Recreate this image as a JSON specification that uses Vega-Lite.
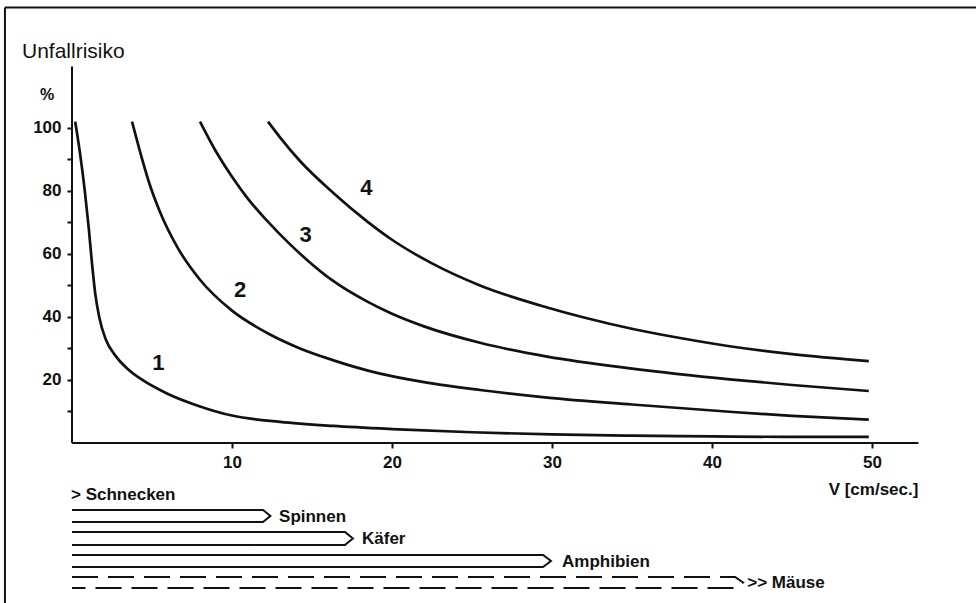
{
  "$schema": "https://vega.github.io/schema/vega-lite/v6.json",
  "width": 976,
  "height": 603,
  "autosize": "none",
  "padding": 0,
  "background": "white",
  "config": {
    "view": {"stroke": null},
    "font": "Liberation Sans, Arial, sans-serif",
    "text": {"font": "Liberation Sans, Arial, sans-serif", "color": "#111"}
  },
  "datasets": {
    "curves": [
      {"curve": "1", "x": 0.2, "y": 102}, {"curve": "1", "x": 0.5, "y": 92}, {"curve": "1", "x": 0.8, "y": 80}, {"curve": "1", "x": 1.05, "y": 68}, {"curve": "1", "x": 1.25, "y": 57}, {"curve": "1", "x": 1.45, "y": 47.5}, {"curve": "1", "x": 1.7, "y": 40}, {"curve": "1", "x": 2.1, "y": 33}, {"curve": "1", "x": 2.7, "y": 27.8}, {"curve": "1", "x": 3.5, "y": 23.4}, {"curve": "1", "x": 4.4, "y": 20}, {"curve": "1", "x": 5.9, "y": 15.8}, {"curve": "1", "x": 8, "y": 11.6}, {"curve": "1", "x": 10, "y": 8.7}, {"curve": "1", "x": 13, "y": 6.7}, {"curve": "1", "x": 16.3, "y": 5.4}, {"curve": "1", "x": 20, "y": 4.4}, {"curve": "1", "x": 25, "y": 3.4}, {"curve": "1", "x": 30, "y": 2.7}, {"curve": "1", "x": 35, "y": 2.3}, {"curve": "1", "x": 40, "y": 2.1}, {"curve": "1", "x": 45, "y": 1.9}, {"curve": "1", "x": 49.8, "y": 1.9},
      {"curve": "2", "x": 3.75, "y": 102}, {"curve": "2", "x": 4.2, "y": 93.4}, {"curve": "2", "x": 4.8, "y": 82.9}, {"curve": "2", "x": 5.5, "y": 73.3}, {"curve": "2", "x": 6.6, "y": 62}, {"curve": "2", "x": 8, "y": 51.8}, {"curve": "2", "x": 10, "y": 42}, {"curve": "2", "x": 12.2, "y": 34.9}, {"curve": "2", "x": 14.25, "y": 30}, {"curve": "2", "x": 16.3, "y": 26.3}, {"curve": "2", "x": 19.25, "y": 22}, {"curve": "2", "x": 22, "y": 19.3}, {"curve": "2", "x": 25.5, "y": 16.8}, {"curve": "2", "x": 29.7, "y": 14.4}, {"curve": "2", "x": 35, "y": 12.2}, {"curve": "2", "x": 41.1, "y": 9.9}, {"curve": "2", "x": 45, "y": 8.6}, {"curve": "2", "x": 49.8, "y": 7.4},
      {"curve": "3", "x": 8, "y": 102}, {"curve": "3", "x": 9, "y": 92.5}, {"curve": "3", "x": 10, "y": 84.5}, {"curve": "3", "x": 11, "y": 77.5}, {"curve": "3", "x": 12.2, "y": 70.5}, {"curve": "3", "x": 13.6, "y": 63.2}, {"curve": "3", "x": 14.6, "y": 58.5}, {"curve": "3", "x": 16.3, "y": 51.5}, {"curve": "3", "x": 18.4, "y": 45}, {"curve": "3", "x": 20, "y": 41}, {"curve": "3", "x": 22, "y": 37}, {"curve": "3", "x": 25.5, "y": 31.8}, {"curve": "3", "x": 29.7, "y": 27.4}, {"curve": "3", "x": 35, "y": 23.6}, {"curve": "3", "x": 41.1, "y": 20.2}, {"curve": "3", "x": 45, "y": 18.4}, {"curve": "3", "x": 49.8, "y": 16.5},
      {"curve": "4", "x": 12.25, "y": 102}, {"curve": "4", "x": 13, "y": 97}, {"curve": "4", "x": 14.25, "y": 89.5}, {"curve": "4", "x": 16.3, "y": 79.5}, {"curve": "4", "x": 18.4, "y": 70.5}, {"curve": "4", "x": 20, "y": 64.5}, {"curve": "4", "x": 22.5, "y": 57}, {"curve": "4", "x": 25.5, "y": 50}, {"curve": "4", "x": 29.7, "y": 43}, {"curve": "4", "x": 32, "y": 39.8}, {"curve": "4", "x": 35.2, "y": 36}, {"curve": "4", "x": 38, "y": 33.3}, {"curve": "4", "x": 41.1, "y": 30.7}, {"curve": "4", "x": 45, "y": 28.2}, {"curve": "4", "x": 49.8, "y": 26}
    ],
    "curveLabels": [
      {"label": "1", "x": 5.4, "y": 25.4},
      {"label": "2", "x": 10.5, "y": 48.6},
      {"label": "3", "x": 14.6, "y": 66},
      {"label": "4", "x": 18.4, "y": 81}
    ],
    "hlines": [
      {"what": "frame", "x": -4.19, "x2": 56.5, "y": 138.25},
      {"what": "xaxis", "x": 0, "x2": 52.9, "y": 0}
    ],
    "vlines": [
      {"what": "frame", "x": -4.19, "y": -50.8, "y2": 138.25},
      {"what": "yaxis", "x": 0, "y": 0, "y2": 119.5}
    ],
    "arrows": [
      {"animal": "Spinnen", "style": "solid", "i": 1, "x": 0, "y": -21.27},
      {"animal": "Spinnen", "style": "solid", "i": 2, "x": 11.94, "y": -21.27},
      {"animal": "Spinnen", "style": "solid", "i": 3, "x": 12.4, "y": -23.17},
      {"animal": "Spinnen", "style": "solid", "i": 4, "x": 11.94, "y": -25.08},
      {"animal": "Spinnen", "style": "solid", "i": 5, "x": 0, "y": -25.08},
      {"animal": "Käfer", "style": "solid", "i": 1, "x": 0, "y": -28.25},
      {"animal": "Käfer", "style": "solid", "i": 2, "x": 17.06, "y": -28.25},
      {"animal": "Käfer", "style": "solid", "i": 3, "x": 17.56, "y": -30.32},
      {"animal": "Käfer", "style": "solid", "i": 4, "x": 17.06, "y": -32.38},
      {"animal": "Käfer", "style": "solid", "i": 5, "x": 0, "y": -32.38},
      {"animal": "Amphibien", "style": "solid", "i": 1, "x": 0, "y": -35.56},
      {"animal": "Amphibien", "style": "solid", "i": 2, "x": 29.44, "y": -35.56},
      {"animal": "Amphibien", "style": "solid", "i": 3, "x": 29.94, "y": -37.46},
      {"animal": "Amphibien", "style": "solid", "i": 4, "x": 29.44, "y": -39.37},
      {"animal": "Amphibien", "style": "solid", "i": 5, "x": 0, "y": -39.37},
      {"animal": "Mäuse", "style": "dashed", "i": 1, "x": 0, "y": -42.54},
      {"animal": "Mäuse", "style": "dashed", "i": 2, "x": 41.44, "y": -42.54},
      {"animal": "Mäuse", "style": "dashed", "i": 3, "x": 41.94, "y": -44.29},
      {"animal": "Mäuse", "style": "dashed", "i": 4, "x": 41.44, "y": -46.03},
      {"animal": "Mäuse", "style": "dashed", "i": 5, "x": 0, "y": -46.03}
    ],
    "animalLabels": [
      {"label": "> Schnecken", "x": -0.06, "y": -16.5},
      {"label": "Spinnen", "x": 12.94, "y": -23.5},
      {"label": "Käfer", "x": 18.125, "y": -30.5},
      {"label": "Amphibien", "x": 30.625, "y": -37.8},
      {"label": ">> Mäuse", "x": 42.2, "y": -44.4}
    ],
    "titles": [
      {"label": "Unfallrisiko", "x": -3.125, "y": 124.1}
    ],
    "percent": [
      {"label": "%", "x": -1.56, "y": 110.5}
    ],
    "xtitle": [
      {"label": "V [cm/sec.]", "x": 52.9, "y": -14.9}
    ]
  },
  "encoding": {
    "x": {
      "field": "x", "type": "quantitative",
      "scale": {"domain": [-4.5, 56.5], "nice": false, "zero": false},
      "axis": {
        "orient": "bottom", "offset": -160, "values": [10, 20, 30, 40, 50],
        "domain": false, "grid": false, "title": null,
        "tickSize": 5, "tickWidth": 2, "tickColor": "#111",
        "labelFont": "Liberation Sans, Arial, sans-serif", "labelFontSize": 17, "labelFontWeight": "bold",
        "labelColor": "#111", "labelPadding": 6
      }
    },
    "y": {
      "field": "y", "type": "quantitative",
      "scale": {"domain": [-50.8, 140.6], "nice": false, "zero": false},
      "axis": {
        "orient": "left", "offset": -72, "values": [10, 20, 30, 40, 50, 60, 70, 80, 90, 100],
        "labelExpr": "datum.value % 20 == 0 ? datum.label : ''",
        "domain": false, "grid": false, "title": null,
        "tickSize": 5, "tickWidth": 2, "tickColor": "#111",
        "labelFont": "Liberation Sans, Arial, sans-serif", "labelFontSize": 17, "labelFontWeight": "bold",
        "labelColor": "#111", "labelPadding": 6
      }
    }
  },
  "layer": [
    {
      "data": {"name": "hlines"},
      "mark": {"type": "rule", "color": "#111", "strokeWidth": 2},
      "encoding": {"x2": {"field": "x2"}}
    },
    {
      "data": {"name": "vlines"},
      "mark": {"type": "rule", "color": "#111", "strokeWidth": 2},
      "encoding": {"y2": {"field": "y2"}}
    },
    {
      "data": {"name": "curves"},
      "mark": {"type": "line", "color": "#111", "strokeWidth": 2.7, "interpolate": "monotone"},
      "encoding": {"detail": {"field": "curve"}}
    },
    {
      "data": {"name": "curveLabels"},
      "mark": {"type": "text", "fontSize": 22, "fontWeight": "bold", "align": "center", "baseline": "middle"},
      "encoding": {"text": {"field": "label"}}
    },
    {
      "data": {"name": "arrows"},
      "mark": {"type": "line", "color": "#111", "strokeWidth": 2},
      "encoding": {
        "detail": {"field": "animal"},
        "order": {"field": "i", "type": "quantitative"},
        "strokeDash": {
          "field": "style", "type": "nominal",
          "scale": {"domain": ["solid", "dashed"], "range": [[1, 0], [26, 10]]},
          "legend": null
        }
      }
    },
    {
      "data": {"name": "animalLabels"},
      "mark": {"type": "text", "fontSize": 17, "fontWeight": "bold", "align": "left", "baseline": "middle"},
      "encoding": {"text": {"field": "label"}}
    },
    {
      "data": {"name": "titles"},
      "mark": {"type": "text", "fontSize": 21, "fontWeight": "normal", "align": "left", "baseline": "middle"},
      "encoding": {"text": {"field": "label"}}
    },
    {
      "data": {"name": "percent"},
      "mark": {"type": "text", "fontSize": 16, "fontWeight": "bold", "align": "center", "baseline": "middle"},
      "encoding": {"text": {"field": "label"}}
    },
    {
      "data": {"name": "xtitle"},
      "mark": {"type": "text", "fontSize": 17, "fontWeight": "bold", "align": "right", "baseline": "middle"},
      "encoding": {"text": {"field": "label"}}
    }
  ]
}
